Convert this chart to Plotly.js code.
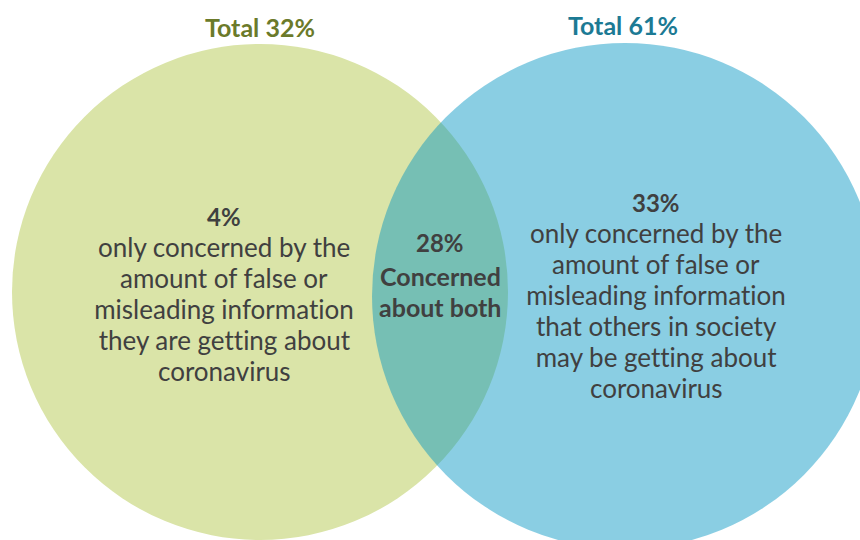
<!DOCTYPE html>
<html>
<head>
<meta charset="utf-8">
<script src="https://cdn.plot.ly/plotly-3.0.1.min.js"></script>
<style>
html,body{margin:0;padding:0;background:#fff;}
#chart{width:860px;height:540px;}
#chart text{font-variant-ligatures:none;font-feature-settings:"liga" 0,"clig" 0;}
</style>
</head>
<body>
<div id="chart"></div>
<script>
// ---- data ----
const setNames = ['Total', 'Total'];
const setTotals = [32, 61];
const regionValues = [4, 28, 33];            // only-left, both, only-right
const leftLines = ['only concerned by the', 'amount of false or', 'misleading information', 'they are getting about', 'coronavirus'];
const bothLines = ['Concerned', 'about both'];
const rightLines = ['only concerned by the', 'amount of false or', 'misleading information', 'that others in society', 'may be getting about', 'coronavirus'];

// ---- layout geometry (pixel-like coordinates) ----
const C1 = {x: 260, y: 292, r: 248};
const C2 = {x: 625, y: 296, r: 253};

const font = 'Lato, "Open Sans", sans-serif';
const dark = '#404040';
const lineGap = 31;

function circ(c, color, op) {
  return {type: 'circle', xref: 'x', yref: 'y', x0: c.x - c.r, x1: c.x + c.r, y0: c.y - c.r, y1: c.y + c.r,
          fillcolor: color, opacity: op, line: {width: 0}, layer: 'below'};
}

const annotations = [];
function add(x, y, text, size, color) {
  annotations.push({xref: 'x', yref: 'y', x: x, y: y, text: text, showarrow: false,
    xanchor: 'center', yanchor: 'middle', align: 'center', font: {family: font, size: size, color: color}});
}
function block(x, yTop, head, lines, headSize, size, boldAll) {
  add(x, yTop, '<b>' + head + '</b>', headSize, dark);
  lines.forEach((t, i) => add(x, yTop + (i + 1) * lineGap + (boldAll ? 3 : 0), boldAll ? '<b>' + t + '</b>' : t, size, dark));
}

add(C1.x, 27, '<b>' + setNames[0] + ' ' + setTotals[0] + '%</b>', 25, '#6B7A2A');
add(C2.x - 2, 25, '<b>' + setNames[1] + ' ' + setTotals[1] + '%</b>', 25, '#1C7A94');
block(224, 216, regionValues[0] + '%', leftLines, 24, 26, false);
block(440, 242, regionValues[1] + '%', bothLines, 24, 25, true);
block(656, 202, regionValues[2] + '%', rightLines, 24, 26, false);

const layout = {
  width: 860, height: 540,
  margin: {l: 0, r: 0, t: 0, b: 0},
  paper_bgcolor: '#ffffff', plot_bgcolor: '#ffffff',
  showlegend: false,
  xaxis: {range: [0, 860], visible: false, fixedrange: true},
  yaxis: {range: [540, 0], visible: false, fixedrange: true},
  shapes: [circ(C1, 'rgb(218,228,168)', 1), circ(C2, 'rgb(0,148,194)', 0.46)],
  annotations: annotations
};

Plotly.newPlot('chart', [{x: [], y: [], type: 'scatter', hoverinfo: 'skip'}], layout, {staticPlot: true, displayModeBar: false});
</script>
</body>
</html>
